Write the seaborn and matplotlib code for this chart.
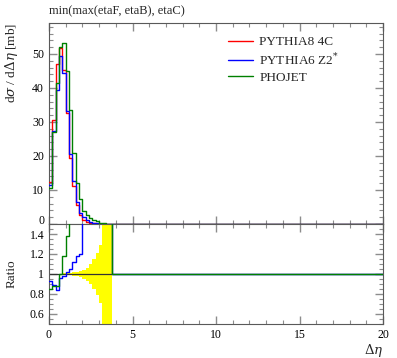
import numpy as np
import pandas as pd
import matplotlib
matplotlib.use("Agg")
import matplotlib.pyplot as plt
import matplotlib.transforms as mtransforms
import seaborn as sns
from matplotlib.lines import Line2D

# ---- data (bin width 0.2 from 0 to 3.8, then an empty bin up to 20) ----
bin_edges = [0.0, 0.2, 0.4, 0.6, 0.8, 1.0, 1.2, 1.4, 1.6, 1.8, 2.0, 2.2, 2.4,
             2.6, 2.8, 3.0, 3.2, 3.4, 3.6, 3.8, 20.0]
pythia8_4c = [12.3, 30.6, 47.0, 51.8, 45.3, 32.5, 19.5, 11.2, 5.6, 2.7, 1.2,
              0.6, 0.3, 0.15, 0.07, 0.03, 0.012, 0.005, 0.002, 0.0]
pythia6_z2 = [11.5, 27.3, 39.5, 49.5, 44.4, 33.2, 20.5, 12.5, 6.6, 3.25, 2.0,
              1.2, 0.7, 0.4, 0.2, 0.1, 0.05, 0.02, 0.01, 0.0]
phojet = [10.5, 27.0, 41.4, 52.0, 53.3, 45.0, 33.5, 21.0, 12.0, 7.3, 3.8,
          2.6, 1.7, 1.2, 0.8, 0.4, 0.2, 0.1, 0.05, 0.0]
ref_err = [0.0, 0.0, 0.003, 0.005, 0.008, 0.01, 0.013, 0.017, 0.022, 0.03,
           0.045, 0.065, 0.1, 0.15, 0.21, 0.29, 1.0, 1.0, 1.0, 0.0]
series_names = ["PYTHIA8 4C", r"PYTHIA6 Z2$^{*}$", "PHOJET"]
series_colors = ["#ff0000", "#0000ff", "#008000"]
title = "min(max(etaF, etaB), etaC)"
ratio_ticks = [0.6, 0.8, 1.0, 1.2, 1.4]

# ---- style ----
sns.set_theme(style="ticks")
plt.rcParams["font.family"] = ["Liberation Serif", "DejaVu Serif"]
plt.rcParams["mathtext.fontset"] = "dejavuserif"

fig = plt.figure(figsize=(3.97, 3.58), dpi=100)
ax = fig.add_axes([49/397, 1-224/358, (383-49)/397, (224-23)/358])
rx = fig.add_axes([49/397, 1-324/358, (383-49)/397, (324-224)/358], sharex=ax)

edges = np.array(bin_edges)
def stepped(vals):
    v = np.asarray(vals, float)
    return np.append(v, v[-1])

rows = []
for name, vals in zip(series_names, [pythia8_4c, pythia6_z2, phojet]):
    for x, y in zip(edges, stepped(vals)):
        rows.append({"x": x, "y": y, "series": name})
df = pd.DataFrame(rows)

ref = np.asarray(pythia8_4c, float)
rrows = []
for name, vals in zip(series_names[1:], [pythia6_z2, phojet]):
    v = np.asarray(vals, float)
    ratio = np.where(ref > 0, v / np.where(ref > 0, ref, 1), 1.0)
    for x, y in zip(edges, stepped(ratio)):
        rrows.append({"x": x, "y": y, "series": name})
rdf = pd.DataFrame(rrows)

pal = dict(zip(series_names, series_colors))

# main panel
sns.lineplot(data=df, x="x", y="y", hue="series", palette=pal, ax=ax,
             estimator=None, sort=False, drawstyle="steps-post", lw=1.0,
             legend=False, zorder=3)
ax.set_xlim(0, 20)
ax.set_ylim(0, 59.1)

# legend
handles = [Line2D([], [], color=c, lw=1.0) for c in series_colors]
ax.legend(handles, series_names, loc="upper left", bbox_to_anchor=(0.535, 0.935),
          frameon=False, fontsize=9.5, handlelength=1.95, handletextpad=0.45,
          labelspacing=0.28, borderaxespad=0, borderpad=0)

# ratio panel
err = np.asarray(ref_err, float)
rx.fill_between(edges, stepped(1 - err), stepped(1 + err), step="post",
                color="#ffff00", lw=0, zorder=1)
rx.axhline(1.0, color="#333333", lw=0.9, zorder=2)
sns.lineplot(data=rdf, x="x", y="y", hue="series",
             palette=pal, ax=rx, estimator=None, sort=False,
             drawstyle="steps-post", lw=1.0, legend=False, zorder=3)
rx.set_ylim(0.5, 1.5)
rx.set_xlim(0, 20)

# ticks
for a in (ax, rx):
    a.tick_params(which="both", direction="in", top=True, right=True,
                  color="0.55", labelsize=8.5, labelcolor="black")
    a.tick_params(which="major", length=6, width=1.0)
    a.tick_params(which="minor", length=3, width=0.8)
    for s in a.spines.values():
        s.set_color("0.35")
        s.set_linewidth(0.8)
    a.xaxis.set_major_locator(matplotlib.ticker.MultipleLocator(5))
    a.xaxis.set_minor_locator(matplotlib.ticker.MultipleLocator(1))
    a.set_xlabel("")
    a.set_ylabel("")

ax.yaxis.set_major_locator(matplotlib.ticker.MultipleLocator(10))
ax.yaxis.set_minor_locator(matplotlib.ticker.MultipleLocator(2))
ax.tick_params(axis="x", labelbottom=False)
rx.yaxis.set_major_locator(matplotlib.ticker.FixedLocator(ratio_ticks))
rx.yaxis.set_major_formatter(matplotlib.ticker.FuncFormatter(lambda v, p: f"{v:g}"))
rx.yaxis.set_minor_locator(matplotlib.ticker.MultipleLocator(0.05))

fig.text(12/397, 1-23/358, r"d$\sigma$ / d$\Delta\eta$ [mb]", rotation=90,
         ha="center", va="top", fontsize=9.5)
fig.text(12/397, 1-274/358, "Ratio", rotation=90, ha="center", va="center",
         fontsize=9.5)
rx.set_xlabel(r"$\Delta\eta$", loc="right", fontsize=9.5, labelpad=1)
ax.set_title(title, loc="left", fontsize=9, pad=6)

# nudge the main panel's "0" label up a little so it clears the ratio's "1.4"
fig.canvas.draw()
for t in ax.yaxis.get_major_ticks():
    if abs(t.get_loc()) < 1e-9:
        lab = t.label1
        lab.set_transform(lab.get_transform() +
                          mtransforms.ScaledTranslation(0, 3/72, fig.dpi_scale_trans))

fig.savefig("out.png", dpi=100)
